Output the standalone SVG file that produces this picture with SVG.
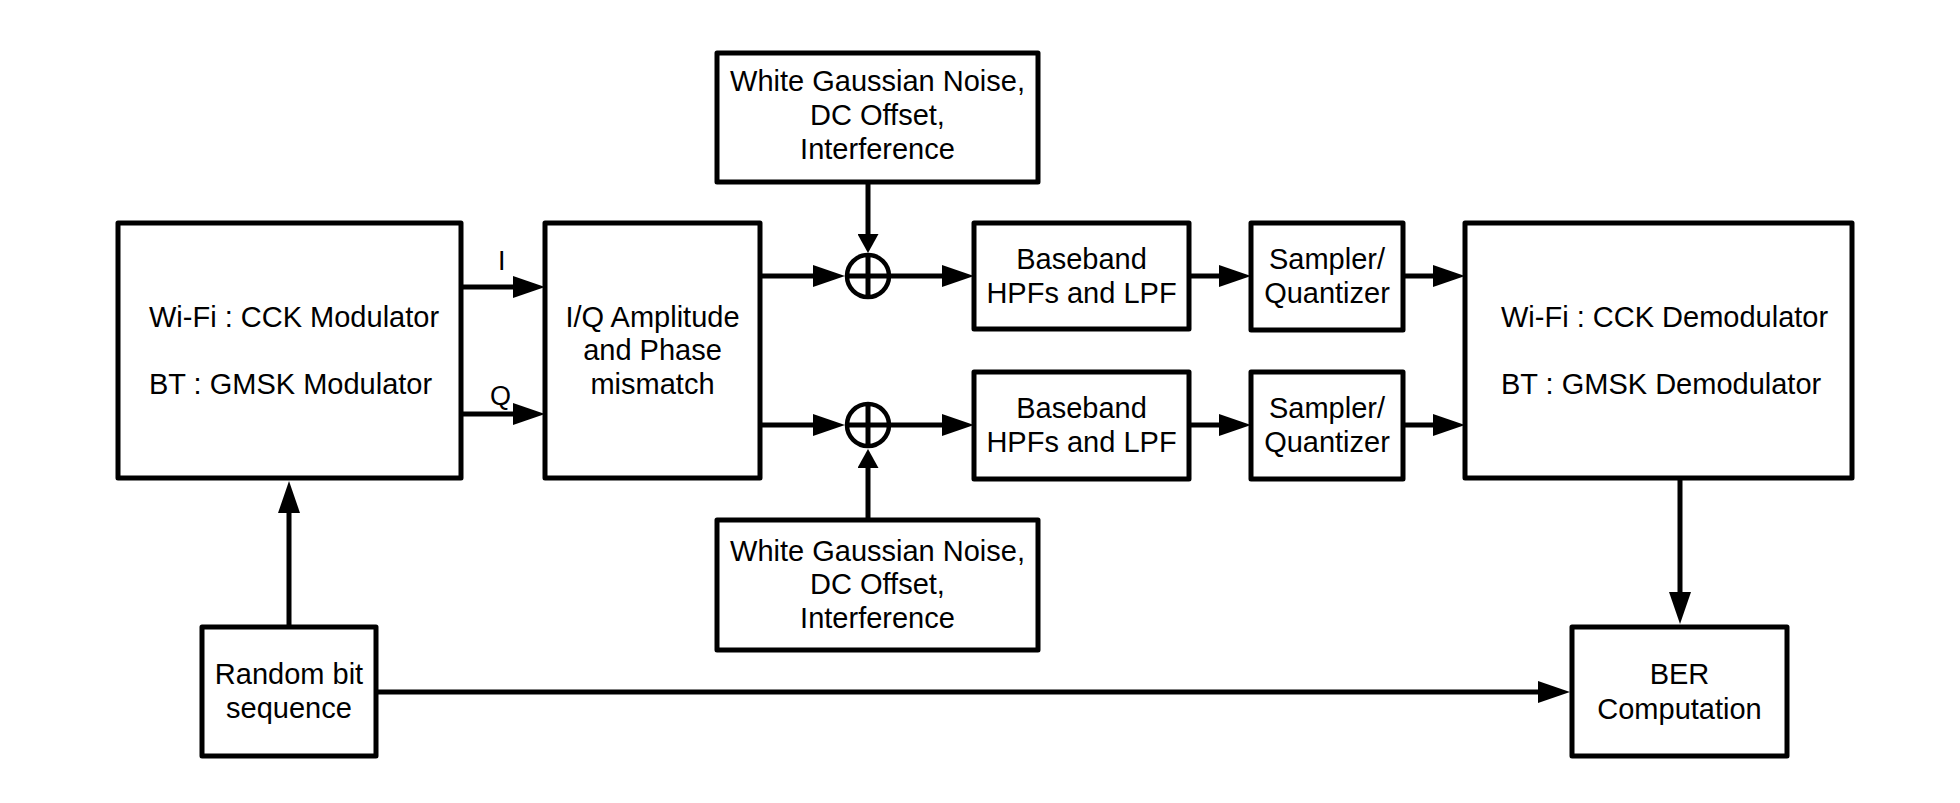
<svg xmlns="http://www.w3.org/2000/svg" width="1960" height="803" viewBox="0 0 1960 803">
<defs>
<style>
.box{fill:#fff;stroke:#000;stroke-width:5;stroke-linejoin:round}
.sum{fill:none;stroke:#000;stroke-width:4.5}
.wire{fill:none;stroke:#000;stroke-width:5}
.t{font-family:"Liberation Sans",Arial,Helvetica,sans-serif;font-size:29px;fill:#000}
.c{text-anchor:middle}
.lbl{font-family:"Liberation Sans",Arial,Helvetica,sans-serif;font-size:27px;fill:#000}
</style>
<marker id="ah" markerUnits="userSpaceOnUse" markerWidth="32" markerHeight="22" refX="22" refY="11" orient="auto" viewBox="0 0 32 22">
<path d="M0,0 L32,11 L0,22 Z" fill="#000"/>
</marker>
<marker id="ahs" markerUnits="userSpaceOnUse" markerWidth="19" markerHeight="21" refX="11" refY="10.5" orient="auto" viewBox="0 0 19 21">
<path d="M0,0 L19,10.5 L0,21 Z" fill="#000"/>
</marker>
</defs>
<rect width="1960" height="803" fill="#fff"/>

<g id="connectors">
<line class="wire" x1="461" y1="287" x2="535" y2="287" marker-end="url(#ah)"/>
<line class="wire" x1="461" y1="414" x2="535" y2="414" marker-end="url(#ah)"/>
<line class="wire" x1="760" y1="276" x2="835" y2="276" marker-end="url(#ah)"/>
<line class="wire" x1="760" y1="425" x2="835" y2="425" marker-end="url(#ah)"/>
<line class="wire" x1="889" y1="276" x2="964" y2="276" marker-end="url(#ah)"/>
<line class="wire" x1="889" y1="425" x2="964" y2="425" marker-end="url(#ah)"/>
<line class="wire" x1="1189" y1="276" x2="1241" y2="276" marker-end="url(#ah)"/>
<line class="wire" x1="1189" y1="425" x2="1241" y2="425" marker-end="url(#ah)"/>
<line class="wire" x1="1403" y1="276" x2="1455" y2="276" marker-end="url(#ah)"/>
<line class="wire" x1="1403" y1="425" x2="1455" y2="425" marker-end="url(#ah)"/>
<line class="wire" x1="868" y1="182" x2="868" y2="245" marker-end="url(#ahs)"/>
<line class="wire" x1="868" y1="520" x2="868" y2="457" marker-end="url(#ahs)"/>
<line class="wire" x1="289" y1="627" x2="289" y2="491" marker-end="url(#ah)"/>
<line class="wire" x1="1680" y1="478" x2="1680" y2="614" marker-end="url(#ah)"/>
<line class="wire" x1="376" y1="692" x2="1560" y2="692" marker-end="url(#ah)"/>
</g>

<g id="sum-top">
<circle class="sum" cx="868" cy="276" r="21"/>
<line class="wire" x1="868" y1="255" x2="868" y2="297"/>
<line class="wire" x1="847" y1="276" x2="889" y2="276"/>
</g>
<g id="sum-bottom">
<circle class="sum" cx="868" cy="425" r="21"/>
<line class="wire" x1="868" y1="404" x2="868" y2="446"/>
<line class="wire" x1="847" y1="425" x2="889" y2="425"/>
</g>

<g id="modulator">
<rect class="box" x="118" y="223" width="343" height="255"/>
<text class="t" x="149" y="327">Wi-Fi : CCK Modulator</text>
<text class="t" x="149" y="394">BT : GMSK Modulator</text>
</g>
<g id="iq-labels">
<text class="lbl" x="498" y="270">I</text>
<text class="lbl" x="490" y="405">Q</text>
</g>
<g id="iq-mismatch">
<rect class="box" x="545" y="223" width="215" height="255"/>
<text class="t c" x="652.5" y="327">I/Q Amplitude</text>
<text class="t c" x="652.5" y="360">and Phase</text>
<text class="t c" x="652.5" y="394">mismatch</text>
</g>
<g id="noise-top">
<rect class="box" x="717" y="53" width="321" height="129"/>
<text class="t c" x="877.5" y="91">White Gaussian Noise,</text>
<text class="t c" x="877.5" y="124.5">DC Offset,</text>
<text class="t c" x="877.5" y="158.5">Interference</text>
</g>
<g id="noise-bottom">
<rect class="box" x="717" y="520" width="321" height="130"/>
<text class="t c" x="877.5" y="560.5">White Gaussian Noise,</text>
<text class="t c" x="877.5" y="594">DC Offset,</text>
<text class="t c" x="877.5" y="627.5">Interference</text>
</g>
<g id="filter-top">
<rect class="box" x="974" y="223" width="215" height="106"/>
<text class="t c" x="1081.5" y="268.5">Baseband</text>
<text class="t c" x="1081.5" y="302.5">HPFs and LPF</text>
</g>
<g id="filter-bottom">
<rect class="box" x="974" y="372" width="215" height="107"/>
<text class="t c" x="1081.5" y="417.5">Baseband</text>
<text class="t c" x="1081.5" y="451.5">HPFs and LPF</text>
</g>
<g id="sampler-top">
<rect class="box" x="1251" y="223" width="152" height="107"/>
<text class="t c" x="1327" y="268.5">Sampler/</text>
<text class="t c" x="1327" y="302.5">Quantizer</text>
</g>
<g id="sampler-bottom">
<rect class="box" x="1251" y="372" width="152" height="107"/>
<text class="t c" x="1327" y="417.5">Sampler/</text>
<text class="t c" x="1327" y="451.5">Quantizer</text>
</g>
<g id="demodulator">
<rect class="box" x="1465" y="223" width="387" height="255"/>
<text class="t" x="1501" y="327">Wi-Fi : CCK Demodulator</text>
<text class="t" x="1501" y="394">BT : GMSK Demodulator</text>
</g>
<g id="random-bits">
<rect class="box" x="202" y="627" width="174" height="129"/>
<text class="t c" x="289" y="683.5">Random bit</text>
<text class="t c" x="289" y="717.5">sequence</text>
</g>
<g id="ber">
<rect class="box" x="1572" y="627" width="215" height="129"/>
<text class="t c" x="1679.5" y="683.5">BER</text>
<text class="t c" x="1679.5" y="718.5">Computation</text>
</g>
</svg>
